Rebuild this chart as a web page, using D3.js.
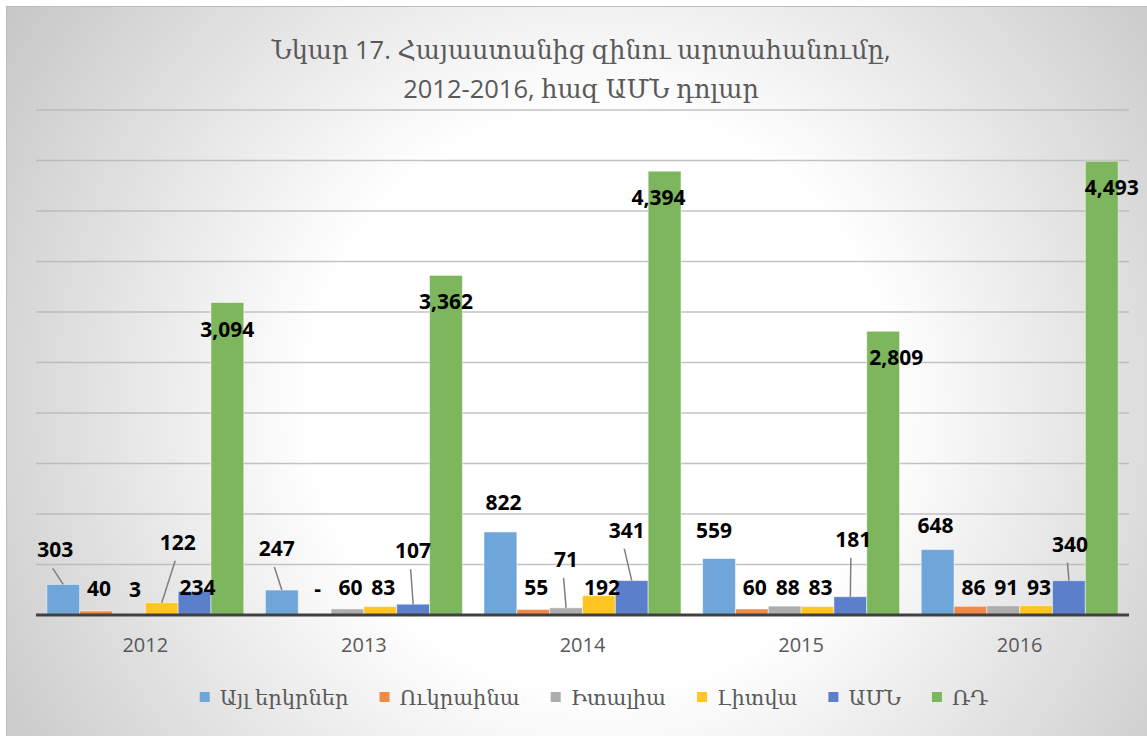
<!DOCTYPE html>
<html>
<head>
<meta charset="utf-8">
<script src="https://cdn.jsdelivr.net/npm/d3@7"></script>
<style>
  html, body { margin: 0; padding: 0; background: #fff; }
  svg { display: block; }
</style>
</head>
<body>
<svg id="chart" width="1147" height="736"></svg>
<script>
// տվյալներ
const years = ['2012', '2013', '2014', '2015', '2016']
const seriesNames = ['Այլ երկրներ', 'Ուկրաինա', 'Իտալիա', 'Լիտվա', 'ԱՄՆ', 'ՌԴ']
const otherCountries = [303, 247, 822, 559, 648]
const ukraine = [40, 0, 55, 60, 86]
const italy = [3, 60, 71, 88, 91]
const lithuania = [122, 83, 192, 83, 93]
const usa = [234, 107, 341, 181, 340]
const russia = [3094, 3362, 4394, 2809, 4493]
const yTicks = [0, 500, 1000, 1500, 2000, 2500, 3000, 3500, 4000, 4500, 5000]
const titleLines = ['Նկար 17. Հայաստանից զինու արտահանումը,', '2012-2016, հազ ԱՄՆ դոլար']

const seriesValues = [otherCountries, ukraine, italy, lithuania, usa, russia]
const colors = ['#6FA6DA', '#EF8A47', '#ADADAD', '#FFC521', '#5B7FCB', '#7DB65C']

// պիտակների տեղաշարժ [dx, dy, leader] (ձեռքով տեղափոխված պիտակներ)
const labelShift = [
    [[-8, -22, 1], [-5, -29, 1], [3, -17, 0], [-5, -16, 0], [-2, -12, 0]],
    [[3, -10, 0], [3, -14, 0], [3, -9, 0], [3, -9, 0], [3, -6, 0]],
    [[6, -13, 0], [3, -9, 0], [0, -36, 1], [3, -6, 0], [3, -6, 0]],
    [[16, -48, 1], [3, -7, 0], [3, 4, 0], [3, -7, 0], [3, -6, 0]],
    [[3, 9, 0], [0, -41, 1], [-5, -38, 1], [3, -45, 1], [1, -24, 1]],
    [[0, 39, 0], [0, 39, 0], [-6, 39, 0], [13, 39, 0], [10, 39, 0]]
]

const style = {
    width: 1147,
    height: 736,
    plot: { left: 36, right: 1129, top: 110, bottom: 615 },
    textColor: '#595959',
    latin: "'Open Sans', 'DejaVu Serif', sans-serif",
    label: "'Open Sans', 'DejaVu Sans', sans-serif"
}

const svg = d3.select('#chart')

// ֆոն
const defs = svg.append('defs')
const grad = defs.append('radialGradient')
    .attr('id', 'bg')
    .attr('gradientUnits', 'userSpaceOnUse')
    .attr('cx', 600).attr('cy', 400).attr('r', 760)
grad.append('stop').attr('offset', 0).attr('stop-color', '#ffffff')
grad.append('stop').attr('offset', 0.38).attr('stop-color', '#ffffff')
grad.append('stop').attr('offset', 1).attr('stop-color', '#c0c0c0')

svg.append('rect')
    .attr('x', 6.5).attr('y', 6.5)
    .attr('width', style.width)
    .attr('height', style.height)
    .attr('fill', 'url(#bg)')
    .attr('stroke', '#bdbdbd')
    .attr('stroke-width', 1)

// սանդղակներ
const x0 = d3.scaleBand()
    .domain(years)
    .range([style.plot.left, style.plot.right])
    .paddingInner(0.099)
    .paddingOuter(0.0495)

const x1 = d3.scaleBand()
    .domain(seriesNames)
    .range([0, x0.bandwidth()])

const y = d3.scaleLinear()
    .domain([0, 5000])
    .range([style.plot.bottom, style.plot.top])

// ցանցագծեր
svg.append('g')
    .selectAll('line')
    .data(yTicks.filter((d) => d > 0))
    .join('line')
    .attr('x1', style.plot.left)
    .attr('x2', style.plot.right)
    .attr('y1', (d) => y(d))
    .attr('y2', (d) => y(d))
    .attr('stroke', '#b4b4b4')
    .attr('stroke-opacity', 0.8)
    .attr('stroke-width', 1.5)

// սյուներ
const groups = svg.append('g')
    .selectAll('g')
    .data(years)
    .join('g')
    .attr('transform', (d) => `translate(${x0(d)},0)`)

groups.selectAll('rect')
    .data((d, i) => seriesNames.map((s, j) => ({ s, j, v: seriesValues[j][i] })))
    .join('rect')
    .attr('x', (d) => x1(d.s))
    .attr('y', (d) => y(d.v))
    .attr('width', x1.bandwidth())
    .attr('height', (d) => y(0) - y(d.v))
    .attr('fill', (d) => colors[d.j])
    .attr('stroke', '#ffffff')
    .attr('stroke-opacity', 0.5)
    .attr('stroke-width', 1)

// առանցք
svg.append('line')
    .attr('x1', style.plot.left)
    .attr('x2', style.plot.right)
    .attr('y1', y(0))
    .attr('y2', y(0))
    .attr('stroke', '#404040')
    .attr('stroke-width', 3)

svg.append('g')
    .selectAll('text')
    .data(years)
    .join('text')
    .text((d) => d)
    .attr('x', (d) => x0(d) + x0.bandwidth() / 2)
    .attr('y', 652)
    .attr('text-anchor', 'middle')
    .attr('font-family', style.latin)
    .attr('font-size', '20px')
    .attr('fill', style.textColor)

// տվյալների պիտակներ
const fmt = d3.format(',')
const labels = []
seriesNames.forEach((s, j) => {
    years.forEach((yr, i) => {
        const v = seriesValues[j][i]
        const sh = labelShift[j][i]
        const bx = x0(yr) + x1(s) + x1.bandwidth() / 2
        const by = y(v)
        labels.push({ text: v === 0 ? '-' : fmt(v), bx, by, lx: bx + sh[0], ly: by - 5 + sh[1], leader: sh[2] })
    })
})

svg.append('g')
    .selectAll('line')
    .data(labels.filter((d) => d.leader))
    .join('line')
    .attr('x1', (d) => d.lx - 2.5)
    .attr('y1', (d) => d.ly + 11)
    .attr('x2', (d) => d.bx)
    .attr('y2', (d) => d.by)
    .attr('stroke', '#7f7f7f')
    .attr('stroke-width', 1.5)

svg.append('g')
    .selectAll('text')
    .data(labels)
    .join('text')
    .text((d) => d.text)
    .attr('x', (d) => d.lx)
    .attr('y', (d) => d.ly)
    .attr('text-anchor', 'middle')
    .attr('font-family', style.label)
    .attr('font-weight', 'bold')
    .attr('font-size', '21px')
    .attr('fill', '#000000')

// վերնագիր
svg.append('g')
    .selectAll('text')
    .data(titleLines)
    .join('text')
    .text((d) => d)
    .attr('x', 581)
    .attr('y', (d, i) => 59 + i * 39)
    .attr('text-anchor', 'middle')
    .attr('font-family', style.latin)
    .attr('font-size', '25.5px')
    .attr('fill', style.textColor)

// լեգենդ
const legend = svg.append('g').attr('transform', 'translate(0,705)')
const items = legend.selectAll('g')
    .data(seriesNames)
    .join('g')

items.append('rect')
    .attr('y', -13)
    .attr('width', 10)
    .attr('height', 10)
    .attr('fill', (d, i) => colors[i])

items.append('text')
    .text((d) => d)
    .attr('x', 20)
    .attr('font-family', style.latin)
    .attr('font-size', '21px')
    .attr('fill', style.textColor)

// տեղադրել լեգենդի տարրերը կողք կողքի
let cursor = 0
const offsets = []
items.each(function () {
    const w = 20 + d3.select(this).select('text').node().getComputedTextLength()
    offsets.push(cursor)
    cursor += w + 31
})
const start = 594 - (cursor - 31) / 2
items.attr('transform', (d, i) => `translate(${start + offsets[i]},0)`)
</script>
</body>
</html>
